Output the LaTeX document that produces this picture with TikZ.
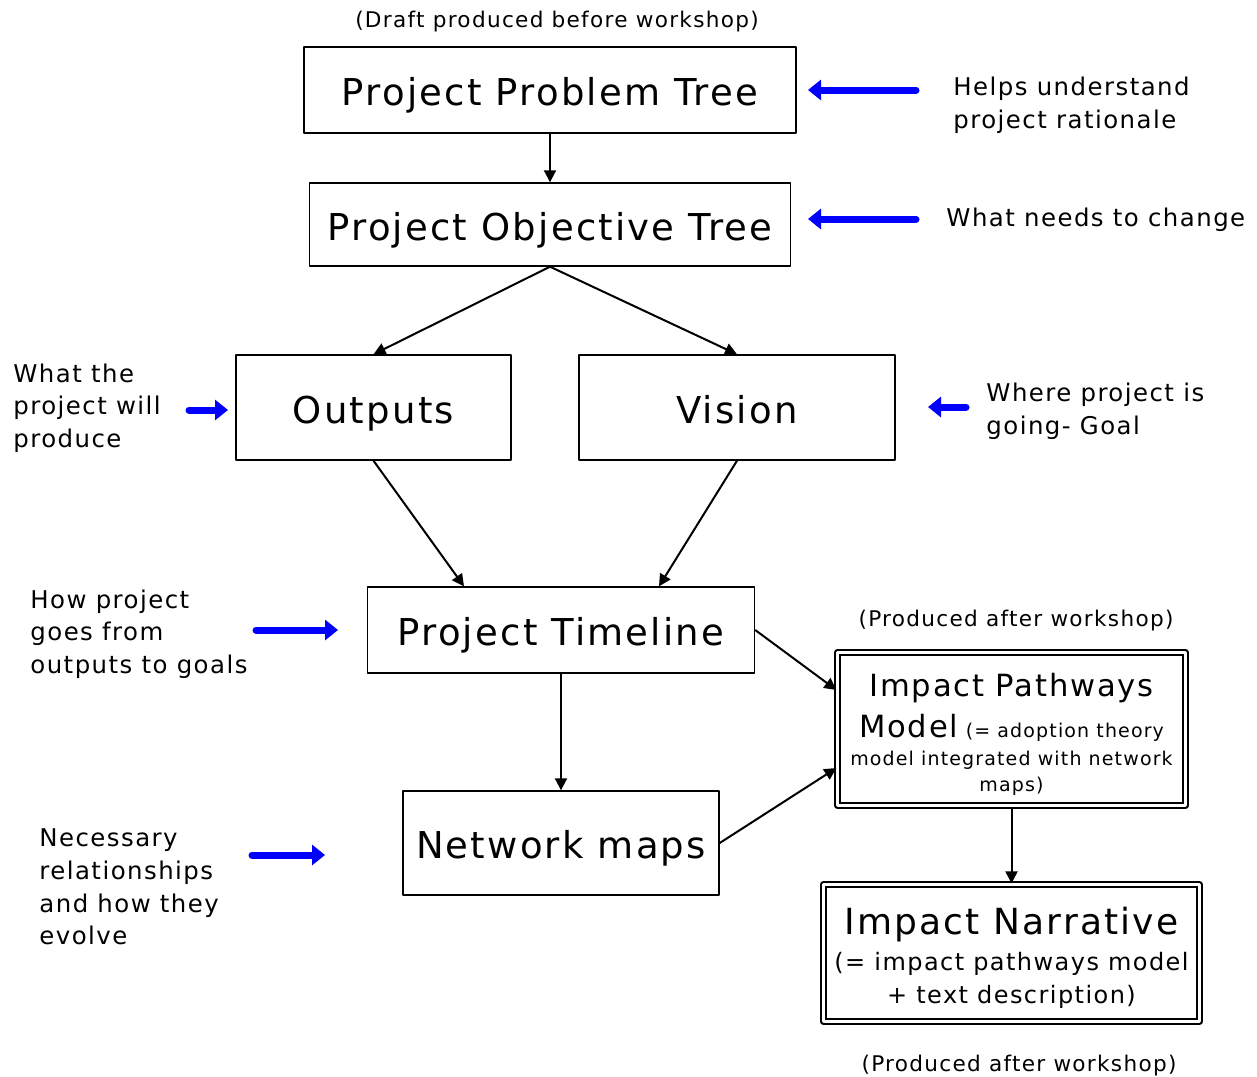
\documentclass[tikz,border=0pt]{standalone}
\usepackage{fontspec}
\setmainfont{DejaVu Sans}[LetterSpace=6]
\usetikzlibrary{arrows.meta}
\begin{document}
\begin{tikzpicture}[x=0.5pt,y=-0.5pt, line join=round, >={Triangle[length=6pt,width=6pt]},
	box/.style={draw, line width=0.7pt, inner sep=0pt, text height=18.5pt, text depth=3pt, font=\fontsize{18.5}{22}\selectfont},
	dbox/.style={draw, line width=1.1pt, double, double distance=1.3pt, inner sep=0pt, align=center},
	note/.style={inner sep=0pt, align=left, font=\fontsize{12.2}{16.3}\selectfont},
	tag/.style={inner sep=0pt, font=\fontsize{10.8}{13}\selectfont},
	link/.style={->, line width=1pt},
	push/.style={-{Triangle[length=6.5pt,width=10pt]}, blue, line width=3.5pt, line cap=round}] %so do quy trinh
	\useasboundingbox (0,0) rectangle (1257,1076);
	\node[box, minimum width=246pt, minimum height=43pt] (prob) at (550,90) {Project Problem Tree};
	\node[box, minimum width=240.5pt, minimum height=41.5pt] (obj) at (550,224.5) {Project Objective Tree};
	\node[box, minimum width=137.5pt, minimum height=52.5pt] (outp) at (373.5,407.5) {Outputs};
	\node[box, minimum width=158pt, minimum height=52.5pt] (vis) at (737,407.5) {Vision};
	\node[box, minimum width=193.5pt, minimum height=43pt] (tline) at (561,630) {Project Timeline};
	\node[box, minimum width=158pt, minimum height=52pt] (netw) at (561,843) {Network maps};
	\node[dbox, minimum width=174pt, minimum height=76.5pt] (ipm) at (1011.5,729)
		{\rule{0pt}{17pt}{\fontsize{15.3}{18}\selectfont Impact Pathways}\\[4.5pt]
		{\fontsize{15.3}{18}\selectfont Model} {\fontsize{9.5}{12}\selectfont (= adoption theory}\\[2pt]
		{\fontsize{9.5}{12}\selectfont model integrated with network}\\[1pt]
		{\fontsize{9.5}{12}\selectfont maps)}};
	\node[dbox, minimum width=188pt, minimum height=68.5pt] (narr) at (1011.5,953)
		{\rule{0pt}{18.2pt}{\fontsize{18}{20}\selectfont Impact Narrative}\\[4pt]
		{\fontsize{12}{16.5}\selectfont (= impact pathways model}\\[4.5pt]
		{\fontsize{12}{16.5}\selectfont + text description)}};
	\node[tag] (draft) at (557,22) {(Draft produced before workshop)};
	\node[tag] (after1) at (1016,621) {(Produced after workshop)};
	\node[tag] (after2) at (1019,1066) {(Produced after workshop)};
	\node[note, anchor=west] (helps) at (953,105) {Helps understand\\project rationale};
	\node[note, anchor=west] (change) at (946,220) {What needs to change};
	\node[note, anchor=west] (what) at (13,408) {What the\\project will\\produce};
	\node[note, anchor=west] (where) at (986,411) {Where project is\\going- Goal};
	\node[note, anchor=west] (how) at (30,634) {How project\\goes from\\outputs to goals};
	\node[note, anchor=west] (need) at (39,887) {Necessary\\relationships\\and how they\\evolve};
	\draw[link] (prob) -- (obj);
	\draw[link] (obj.south) -- (outp.north);
	\draw[link] (obj.south) -- (vis.north);
	\draw[link] (outp.south) -- ([xshift=-48.5pt]tline.north);
	\draw[link] (vis.south) -- ([xshift=49pt]tline.north);
	\draw[link] (tline) -- (netw);
	\draw[link] (tline.east) -- ([yshift=19.5pt]ipm.west);
	\draw[link] (netw.east) -- ([yshift=-19.5pt]ipm.west);
	\draw[link] (ipm) -- (narr);
	\coordinate (a1) at (916,90); \coordinate (b1) at (808,90);
	\coordinate (a2) at (916,219); \coordinate (b2) at (808,219);
	\coordinate (a3) at (189,410); \coordinate (b3) at (228,410);
	\coordinate (a4) at (966,407); \coordinate (b4) at (928,407);
	\coordinate (a5) at (256,630); \coordinate (b5) at (338,630);
	\coordinate (a6) at (252,855); \coordinate (b6) at (325,855);
	\draw[push] (a1) -- (b1);
	\draw[push] (a2) -- (b2);
	\draw[push] (a3) -- (b3);
	\draw[push] (a4) -- (b4);
	\draw[push] (a5) -- (b5);
	\draw[push] (a6) -- (b6);
\end{tikzpicture}
\end{document}
